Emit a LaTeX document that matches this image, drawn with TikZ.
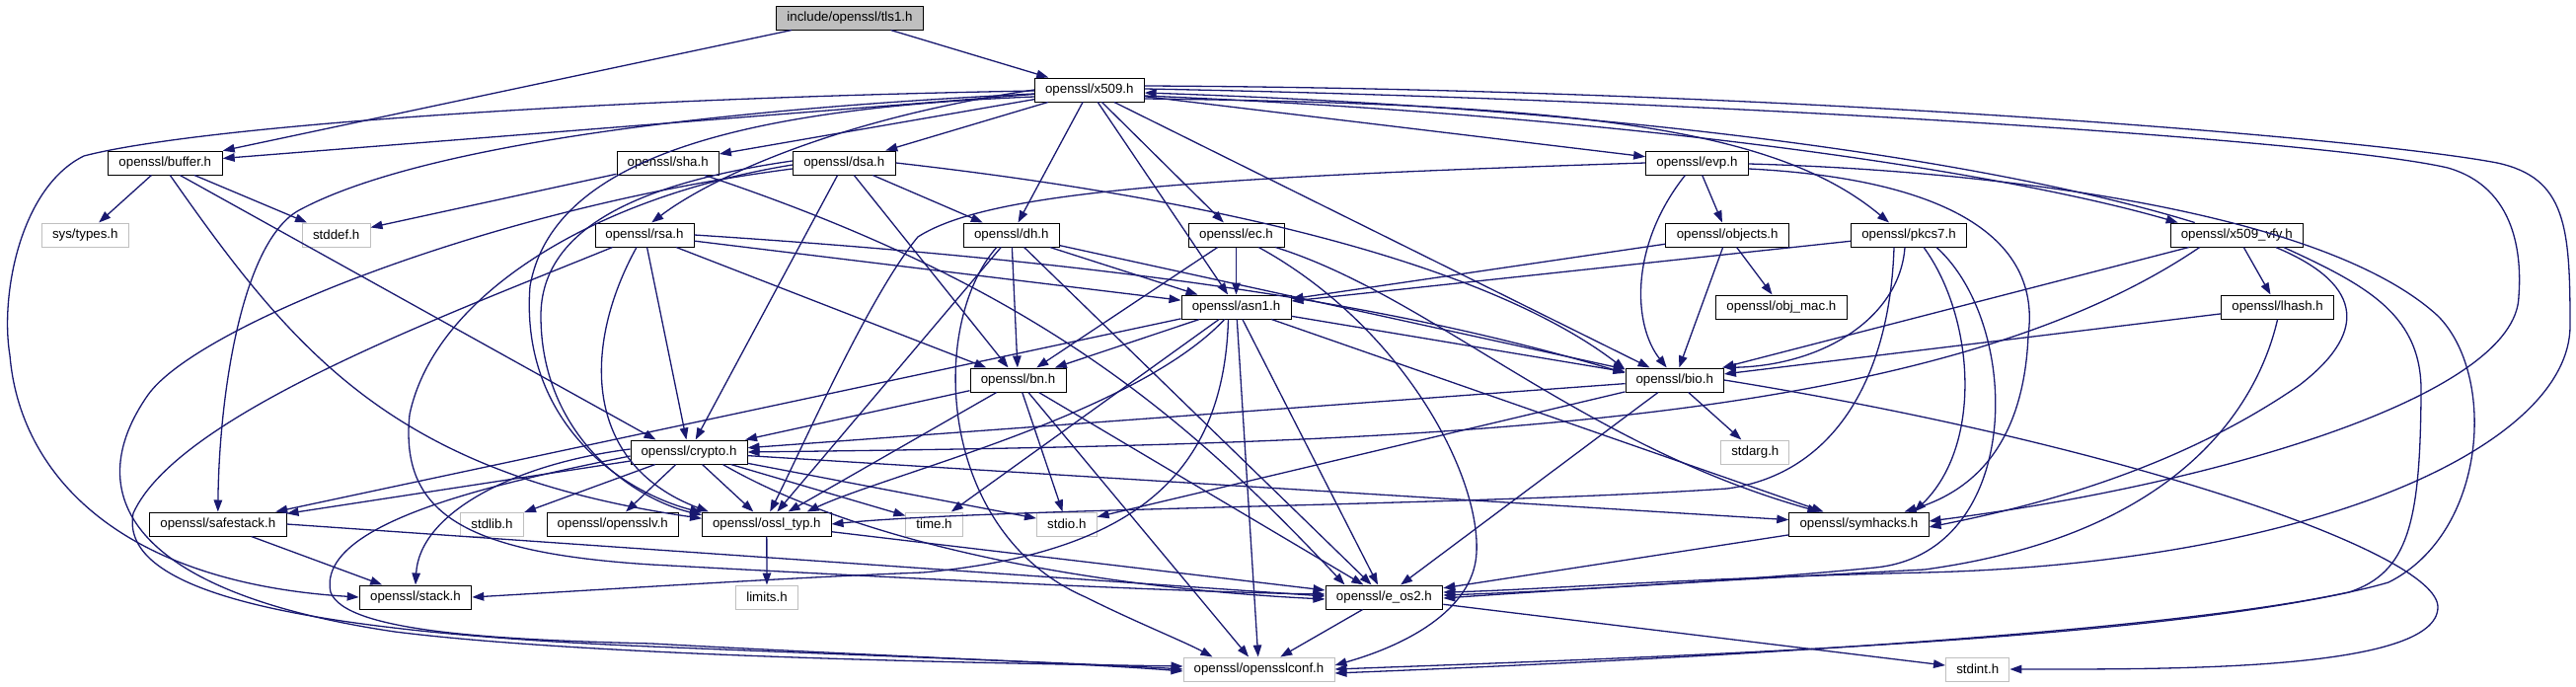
\documentclass[tikz,border=0pt]{standalone}
\usepackage{fontspec}
\setmainfont{Liberation Sans}
\usetikzlibrary{arrows.meta,calc}
\definecolor{edgec}{HTML}{191970}
\definecolor{greyb}{HTML}{BFBFBF}
\begin{document}
\begin{tikzpicture}[x=1pt,y=-1pt,
  file/.style={draw=black,line width=1pt,fill=white,minimum height=24pt,inner sep=0pt,
    font=\fontsize{13.3pt}{15pt}\selectfont},
  ext/.style={file,draw=greyb},
  cur/.style={file,fill=greyb},
  e/.style={draw=edgec,line width=1.3pt,-{Triangle[length=12pt,width=8.5pt]}}]
\useasboundingbox (0,0) rectangle (2610,696);
% nodes
\node[cur,minimum width=149pt] (tls1) at (861,18) {include/openssl/tls1.h};
\node[file,minimum width=110.7pt] (x509) at (1103.8,91) {openssl/x509.h};
\node[file,minimum width=115.8pt] (buffer) at (167.3,165) {openssl/buffer.h};
\node[file,minimum width=103.4pt] (sha) at (676.7,165) {openssl/sha.h};
\node[file,minimum width=104pt] (dsa) at (855.3,165) {openssl/dsa.h};
\node[file,minimum width=103.6pt] (evp) at (1719.4,165) {openssl/evp.h};
\node[ext,minimum width=88.4pt] (systypes) at (86.3,238) {sys/types.h};
\node[ext,minimum width=68.6pt] (stddef) at (340.7,238) {stddef.h};
\node[file,minimum width=100pt] (rsa) at (653,238) {openssl/rsa.h};
\node[file,minimum width=96.8pt] (dh) at (1024.8,238) {openssl/dh.h};
\node[file,minimum width=97pt] (ec) at (1252.5,238) {openssl/ec.h};
\node[file,minimum width=124.7pt] (objects) at (1750.2,238) {openssl/objects.h};
\node[file,minimum width=117pt] (pkcs7) at (1934,238) {openssl/pkcs7.h};
\node[file,minimum width=134pt] (x509vfy) at (2266.2,238) {openssl/x509\_vfy.h};
\node[file,minimum width=111pt] (asn1) at (1252.5,311) {openssl/asn1.h};
\node[file,minimum width=133pt] (objmac) at (1804.9,311) {openssl/obj\_mac.h};
\node[file,minimum width=114pt] (lhash) at (2307.6,311) {openssl/lhash.h};
\node[file,minimum width=97pt] (bn) at (1031.5,385) {openssl/bn.h};
\node[file,minimum width=99.4pt] (bio) at (1696.7,385) {openssl/bio.h};
\node[file,minimum width=118pt] (crypto) at (698,458) {openssl/crypto.h};
\node[ext,minimum width=69pt] (stdarg) at (1778.3,458) {stdarg.h};
\node[file,minimum width=138.5pt] (safestack) at (220.8,531) {openssl/safestack.h};
\node[ext,minimum width=64pt] (stdlib) at (498.5,531) {stdlib.h};
\node[file,minimum width=133.6pt] (opensslv) at (620.8,531) {openssl/opensslv.h};
\node[file,minimum width=130.5pt] (ossltyp) at (776.8,531) {openssl/ossl\_typ.h};
\node[ext,minimum width=57.2pt] (time) at (946.5,531) {time.h};
\node[ext,minimum width=60.6pt] (stdio) at (1080.8,531) {stdio.h};
\node[file,minimum width=141.2pt] (symhacks) at (1883.4,531) {openssl/symhacks.h};
\node[file,minimum width=113.6pt] (stack) at (421,605) {openssl/stack.h};
\node[ext,minimum width=62.7pt] (limits) at (777,605) {limits.h};
\node[file,minimum width=118.8pt] (eos2) at (1402.4,605) {openssl/e\_os2.h};
\node[ext,minimum width=153pt] (opensslconf) at (1275.5,678) {openssl/opensslconf.h};
\node[ext,minimum width=64.4pt] (stdint) at (2003.7,678) {stdint.h};
% edges: tls1
\draw[e] (tls1) -- (buffer);
\draw[e] (tls1) -- (x509);
% x509
\draw[e] (x509) -- (buffer);
\draw[e] (x509) -- (sha);
\draw[e] (x509) -- (dsa);
\draw[e] (x509.west) .. controls (850,120) and (720,180) .. (rsa.60);
\draw[e] (x509) -- (dh);
\draw[e] (x509) -- (ec);
\draw[e] (x509) -- (asn1);
\draw[e] (x509) -- (bio);
\draw[e] (x509) -- (evp);
\draw[e] ($(x509.east)+(0,9)$) .. controls (1600,105) and (1800,130) .. ($(pkcs7.north)+(-20,0)$);
\draw[e] ($(x509.east)+(0,6)$) .. controls (1700,120) and (2050,180) .. ($(x509vfy.north west)+(8,0)$);
\draw[e] ($(x509vfy.north west)+(25,0)$) .. controls (2050,172) and (1700,112) .. ($(x509.east)+(0,3)$);
\draw[e] ($(x509.west)+(0,4)$) .. controls (700,112) and (420,150) .. (303,213) .. controls (245,245) and (222,400) .. (safestack.north);
\draw[e] ($(x509.west)+(0,1)$) .. controls (600,100) and (200,128) .. (85,158) .. controls (20,190) and (0,300) .. (10,360) .. controls (20,480) and (120,590) .. (stack.west);
\draw[e] ($(x509.west)+(0,7)$) .. controls (750,110) and (560,160) .. (537,290) .. controls (527,420) and (620,495) .. (ossltyp.170);
\draw[e] ($(x509.east)+(0,-1)$) .. controls (1700,100) and (2350,140) .. (2480,170) .. controls (2550,190) and (2555,260) .. (2552,300) .. controls (2550,400) and (2250,490) .. ($(symhacks.east)+(0,-3)$);
\draw[e] ($(x509.east)+(0,-4)$) .. controls (1800,90) and (2400,140) .. (2530,165) .. controls (2600,180) and (2604,230) .. (2604,330) .. controls (2604,450) and (2350,570) .. (1950,580) .. controls (1700,586) and (1550,598) .. ($(eos2.east)+(0,-5)$);
% buffer
\draw[e] (buffer) -- (systypes);
\draw[e] (buffer) -- (stddef);
\draw[e] ($(buffer.south)+(5,0)$) .. controls (300,360) and (400,480) .. (ossltyp.175);
\draw[e] ($(buffer.south)+(15,0)$) -- ($(crypto.north west)+(26,0)$);
% sha
\draw[e] (sha) -- (stddef);
\draw[e] (sha) .. controls (1050,290) and (1200,420) .. ($(eos2.north west)+(20,0)$);
% dsa
\draw[e] (dsa) -- (dh);
\draw[e] (dsa) -- (bn);
\draw[e] (dsa) -- (crypto);
\draw[e] (dsa.east) .. controls (1350,215) and (1550,300) .. (bio.168);
\draw[e] ($(dsa.west)+(0,-2)$) .. controls (650,185) and (548,230) .. (548,320) .. controls (548,440) and (640,505) .. (ossltyp.172);
\draw[e] ($(dsa.west)+(0,2)$) .. controls (600,200) and (440,300) .. (415,420) .. controls (405,520) and (470,560) .. (660,572) .. controls (900,585) and (1200,600) .. ($(eos2.west)+(0,-3)$);
\draw[e] ($(dsa.west)+(0,6)$) .. controls (500,210) and (200,330) .. (150,400) .. controls (80,500) and (130,600) .. (400,640) .. controls (600,665) and (1000,672) .. ($(opensslconf.west)+(0,-3)$);
% rsa
\draw[e] (rsa) -- (asn1);
\draw[e] (rsa.east) .. controls (1200,270) and (1450,320) .. (bio.172);
\draw[e] (rsa) -- (bn);
\draw[e] (rsa) -- (crypto);
\draw[e] ($(rsa.south)+(-8,0)$) .. controls (590,350) and (590,470) .. (ossltyp.168);
\draw[e] ($(rsa.south west)+(18,0)$) .. controls (450,320) and (180,420) .. (135,520) .. controls (120,600) and (300,640) .. (660,655) .. controls (900,665) and (1100,672) .. (opensslconf.west);
% dh
\draw[e] (dh) -- (asn1);
\draw[e] (dh) -- (bio);
\draw[e] (dh) -- (bn);
\draw[e] (dh) -- (ossltyp);
\draw[e] (dh) -- (eos2);
\draw[e] ($(dh.south)+(-15,0)$) .. controls (940,330) and (950,540) .. (1100,605) .. controls (1150,630) and (1200,650) .. ($(opensslconf.north west)+(30,0)$);
% ec
\draw[e] (ec) -- (asn1);
\draw[e] (ec) -- (bn);
\draw[e] (ec) .. controls (1450,300) and (1600,450) .. ($(symhacks.north)+(-40,0)$);
\draw[e] (ec) .. controls (1420,330) and (1500,480) .. (1496,560) .. controls (1493,620) and (1420,655) .. ($(opensslconf.east)+(0,-4)$);
% evp
\draw[e] (evp) -- (objects);
\draw[e] ($(evp.south)+(-12,0)$) .. controls (1650,250) and (1655,330) .. ($(bio.north)+(-8,0)$);
\draw[e] (evp.west) .. controls (1200,180) and (1000,195) .. (930,240) .. controls (880,300) and (810,460) .. (ossltyp.75);
\draw[e] ($(evp.east)+(0,6)$) .. controls (1950,180) and (2070,230) .. (2055,340) .. controls (2050,460) and (1990,500) .. ($(symhacks.north east)+(-25,0)$);
\draw[e] ($(evp.east)+(0,1)$) .. controls (2000,172) and (2350,210) .. (2470,320) .. controls (2530,380) and (2520,540) .. (2420,590) .. controls (2250,640) and (1700,668) .. ($(opensslconf.east)+(0,4)$);
% objects
\draw[e] (objects) -- (objmac);
\draw[e] (objects) -- (bio);
\draw[e] (objects) -- (asn1);
% pkcs7
\draw[e] (pkcs7) -- (asn1);
\draw[e] ($(pkcs7.south)+(-4,0)$) .. controls (1925,320) and (1850,370) .. (bio.north east);
\draw[e] ($(pkcs7.south)+(15,0)$) .. controls (2000,320) and (2010,450) .. ($(symhacks.north east)+(-15,0)$);
\draw[e] ($(pkcs7.south)+(28,0)$) .. controls (2050,330) and (2050,560) .. (1900,575) .. controls (1750,590) and (1550,600) .. ($(eos2.east)+(0,-2)$);
\draw[e] ($(pkcs7.south)+(-15,0)$) .. controls (1915,380) and (1860,480) .. (1750,495) .. controls (1500,512) and (1000,515) .. (ossltyp.east);
% x509_vfy
\draw[e] (x509vfy) -- (lhash);
\draw[e] (x509vfy) -- (bio);
\draw[e] ($(x509vfy.south west)+(30,0)$) .. controls (1950,440) and (1400,450) .. (crypto.east);
\draw[e] ($(x509vfy.south east)+(-28,0)$) .. controls (2400,290) and (2395,340) .. (2330,390) .. controls (2200,480) and (2050,515) .. ($(symhacks.east)+(0,3)$);
\draw[e] ($(x509vfy.south east)+(-20,0)$) .. controls (2400,290) and (2455,320) .. (2453,400) .. controls (2452,530) and (2440,580) .. (2380,600) .. controls (2150,650) and (1700,665) .. (opensslconf.east);
% lhash
\draw[e] (lhash) -- (bio);
\draw[e] (lhash.south) .. controls (2290,400) and (2220,540) .. (1950,577) .. controls (1700,590) and (1550,600) .. ($(eos2.east)+(0,1)$);
% asn1
\draw[e] (asn1) -- (bio);
\draw[e] (asn1) -- (bn);
\draw[e] (asn1) -- (time);
\draw[e] ($(asn1.south)+(-8,0)$) .. controls (1240,480) and (1150,560) .. (935,580) .. controls (800,585) and (600,598) .. (stack.east);
\draw[e] (asn1) -- (safestack);
\draw[e] (asn1) -- (symhacks);
\draw[e] (asn1) .. controls (1150,420) and (900,480) .. ($(ossltyp.north east)+(-25,0)$);
\draw[e] (asn1) -- (eos2);
\draw[e] (asn1) -- (opensslconf);
% bn
\draw[e] (bn) -- (crypto);
\draw[e] (bn) -- (ossltyp);
\draw[e] (bn) -- (stdio);
\draw[e] (bn) -- (eos2);
\draw[e] (bn) -- (opensslconf);
% bio
\draw[e] (bio) -- (stdarg);
\draw[e] (bio) -- (crypto);
\draw[e] (bio) -- (stdio);
\draw[e] (bio) -- (eos2);
\draw[e] (bio.east) .. controls (2150,450) and (2470,560) .. (2470,615) .. controls (2470,680) and (2200,678) .. (stdint.east);
% crypto
\draw[e] (crypto) -- (safestack);
\draw[e] (crypto) -- (stdlib);
\draw[e] (crypto) -- (opensslv);
\draw[e] (crypto) -- (ossltyp);
\draw[e] (crypto) -- (time);
\draw[e] (crypto) -- (stdio);
\draw[e] (crypto) -- (symhacks);
\draw[e] ($(crypto.west)+(0,-3)$) .. controls (520,470) and (425,520) .. (stack.north);
\draw[e] (crypto.340) .. controls (870,550) and (1100,595) .. ($(eos2.west)+(0,2)$);
\draw[e] ($(crypto.west)+(0,4)$) .. controls (500,490) and (320,530) .. (335,600) .. controls (350,640) and (500,648) .. (660,652) .. controls (900,665) and (1100,672) .. ($(opensslconf.west)+(0,2)$);
% others
\draw[e] (safestack) -- (stack);
\draw[e] (safestack.east) -- ($(eos2.west)+(0,-1)$);
\draw[e] (ossltyp) -- (limits);
\draw[e] (ossltyp) -- (eos2);
\draw[e] (symhacks) -- (eos2);
\draw[e] (eos2) -- (opensslconf);
\draw[e] (eos2) -- (stdint);
\end{tikzpicture}
\end{document}
